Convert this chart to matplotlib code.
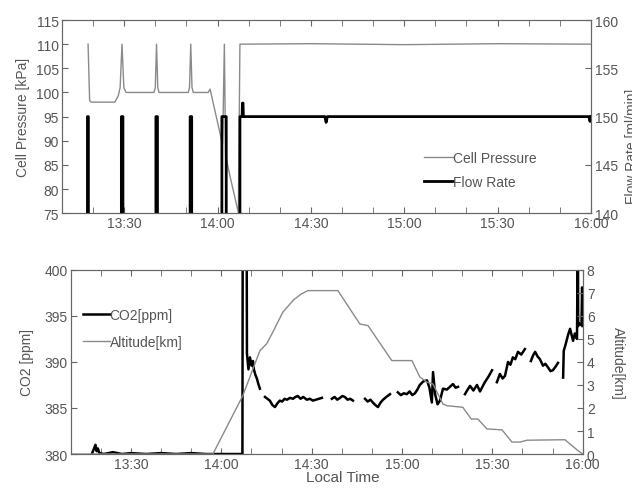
import numpy as np
import matplotlib
matplotlib.use("Agg")
import matplotlib.pyplot as plt
from matplotlib.ticker import FuncFormatter, MultipleLocator

nan = np.nan

plt.rcParams['font.family'] = ['Liberation Sans', 'DejaVu Sans']
plt.rcParams['font.size'] = 10

txt = '#555555'
edge = '#666666'

# ---- top panel: time in minutes after 13:00 ----
press_t = [18.4, 18.9, 19.4, 27.0, 28.1, 28.7, 29.3, 29.9, 30.6, 39.6, 40.0, 40.4, 40.8,
           41.2, 50.6, 51.0, 51.4, 51.8, 52.2, 57.0, 57.6, 61.6, 61.8, 62.2, 62.6, 64.0,
           66.7, 67.2, 67.5, 90, 120, 150, 180]
press_v = [110, 98.3, 98.0, 98.0, 99.3, 101, 110, 101, 100, 100, 101, 110, 101,
           100, 100, 101, 110, 101, 100, 100, 100.7, 89.3, 95, 110, 86.9, 82.7,
           75.1, 110, 110, 110.1, 109.9, 110.1, 110]

flow_t = [18.2, 18.2, 18.5, 18.5, 29.1, 29.1, 29.6, 29.6, 40.2, 40.2, 40.7, 40.7,
          51.2, 51.2, 51.7, 51.7, 61.4, 61.4, 62.8, 62.8, 67.2, 67.2, 67.9, 68.0,
          68.2, 68.3, 94.5, 94.9, 95.3, 179.4, 179.7, 180]
flow_v = [130, 150, 150, 130, 130, 150, 150, 130, 130, 150, 150, 130,
          130, 150, 150, 130, 130, 150, 150, 130, 130, 150, 150, 151.4,
          151.4, 150, 150, 149.4, 150, 150, 149.5, 150]

# ---- bottom panel ----
co2_t = [17.0, 18.2, 18.6, 19.0, 19.5, 21, 24, 27, 30, 35, 40, 45, 50, 55, 60, 67.0,
         67.1, 68.4, 68.5, 69.0, 69.5, 70.1, 70.5, 70.8, 71.3, 71.8, 72.3, 72.8, nan,
         74.5, 75.3, 76.1, 77.0, 77.8, 78.6, 79.4, 80.2, 81.0, 81.8, 82.8, 83.8, 84.6,
         85.4, 86.3, 87.2, 88.4, 89.4, 90.4, 91.4, 92.4, 93.4, nan,
         96.7, 97.6, 98.5, 99.4, 100.2, 101.0, 101.9, 102.8, 103.7, nan,
         107.7, 108.6, 109.5, 110.3, 111.2, 112.0, 112.9, 113.7, 114.8, 116.0, nan,
         118.6, 119.6, 120.6, 121.6, 122.5, 123.4, 124.3, 125.1, 125.9, 127.1, 128.3,
         129.1, 129.9, 130.3, 131.0, 131.8, 132.6, 133.6, 134.9, 135.9, 136.9, 137.8, 138.6, nan,
         140.9, 141.8, 142.6, 143.7, 144.9, 145.9, 146.7, 147.5, 148.7, 149.9, nan,
         151.5, 152.5, 153.4, 154.2, 155.2, 156.0, 156.8, 157.6, 158.5, 159.6, 160.8, nan,
         162.8, 163.5, 164.2, 165.0, 165.8, 166.8, 167.6, 168.5, 169.3, 170.1, 171.0, 171.8, nan,
         173.5, 173.7, 174.4, 175.1, 175.8, 176.8, 177.4, 178.1, 178.4, 178.5, 178.7,
         179.6, 179.8, 180.0]
co2_v = [380.0, 381.0, 380.3, 380.6, 380.1, 380.0, 380.2, 380.0, 380.1, 380.0, 380.1, 380.0, 380.1, 380.0, 380.0, 380.0,
         405, 405, 390.9, 389.2, 390.5, 389.6, 390.1, 389.2, 388.6, 388.2, 387.6, 387.1, nan,
         386.2, 386.0, 385.8, 385.3, 385.1, 385.5, 385.8, 385.7, 386.0, 385.9, 386.1, 386.0, 386.2,
         386.3, 386.0, 386.2, 385.9, 386.0, 385.8, 385.9, 386.0, 386.1, nan,
         386.0, 386.2, 385.9, 386.1, 386.3, 386.2, 385.9, 386.0, 385.8, nan,
         386.0, 385.7, 385.9, 385.6, 385.3, 385.1, 385.6, 385.9, 386.2, 386.5, nan,
         386.7, 386.4, 386.6, 386.5, 386.8, 386.4, 386.6, 387.0, 387.5, 387.9, 388.0,
         387.2, 385.6, 388.9, 386.5, 385.4, 385.8, 387.1, 387.0, 387.3, 387.6, 387.2, 387.3, nan,
         386.5, 387.0, 387.4, 386.9, 387.5, 386.8, 387.3, 387.8, 388.4, 389.1, nan,
         387.8, 388.7, 388.2, 388.5, 390.0, 389.7, 390.5, 390.3, 391.1, 390.8, 391.4, nan,
         390.1, 390.7, 391.1, 390.6, 390.3, 389.6, 389.8, 389.4, 389.0, 389.1, 389.5, 389.9, nan,
         388.3, 391.2, 392.0, 392.9, 393.6, 392.3, 393.1, 392.5, 405, 393.9, 394.2,
         394.0, 398.1, 393.9]

alt_t = [10, 57.2, 67.1, 72.8, 75.1, 77.5, 80.4, 84.0, 86.5, 88.7, 98.7, 106.0, 108.7,
         116.6, 123.3, 125.9, 128.3, 130.3, 133.6, 134.9, 140.2, 143.0, 145.2, 148.2,
         153.2, 156.5, 159.2, 161.5, 174.1, 178.4, 180]
alt_v = [0, 0, 2.53, 4.49, 4.8, 5.4, 6.16, 6.7, 6.95, 7.1, 7.1, 5.65, 5.58,
         4.06, 4.06, 3.35, 3.12, 3.04, 2.17, 2.1, 2.03, 1.52, 1.52, 1.09,
         1.05, 0.52, 0.52, 0.6, 0.62, 0.15, 0]


def hhmm(v, pos):
    m = int(round(v))
    return f"{13 + m // 60}:{m % 60:02d}"


def style(ax):
    ax.set_xlim(10, 180)
    ax.xaxis.set_major_locator(MultipleLocator(30))
    ax.xaxis.set_minor_locator(MultipleLocator(10))
    ax.xaxis.set_major_formatter(FuncFormatter(hhmm))
    ax.tick_params(which='both', direction='in', top=True, colors=edge,
                   labelcolor=txt, labelsize=10, length=4, pad=2)
    for s in ax.spines.values():
        s.set_color(edge)


def style_right(ax):
    ax.tick_params(direction='in', colors=edge, labelcolor=txt, labelsize=10,
                   length=4, pad=3)
    for s in ax.spines.values():
        s.set_color(edge)


fig = plt.figure(figsize=(6.32, 4.89), dpi=100)

# top panel
ax1 = fig.add_axes([0.098, 0.562, 0.837, 0.395])
ax1r = ax1.twinx()
p1, = ax1.plot(press_t, press_v, color='#8a8a8a', lw=1.0)
p2, = ax1r.plot(flow_t, flow_v, color='black', lw=2.0)
ax1.set_ylim(75, 115)
ax1.set_yticks(np.arange(75, 116, 5))
ax1r.set_ylim(140, 160)
ax1r.set_yticks(np.arange(140, 161, 5))
style(ax1)
style_right(ax1r)
ax1.set_ylabel('Cell Pressure [kPa]', color=txt, fontsize=10, labelpad=4)
fig.text(1.0, 0.70, 'Flow Rate [ml/min]', rotation=90, ha='center', va='center',
         color=txt, fontsize=10)
ax1.legend([p1, p2], ['Cell Pressure', 'Flow Rate'], loc='lower left',
           bbox_to_anchor=(0.66, 0.06), frameon=False, fontsize=10,
           handlelength=2.1, handletextpad=0.0, labelspacing=0.75, labelcolor=txt)

# bottom panel
ax2 = fig.add_axes([0.112, 0.0695, 0.81, 0.3765])
ax2r = ax2.twinx()
c1, = ax2.plot(co2_t, co2_v, color='black', lw=1.8)
c2, = ax2r.plot(alt_t, alt_v, color='#8a8a8a', lw=1.0)
ax2.set_ylim(380, 400)
ax2.set_yticks(np.arange(380, 401, 5))
ax2r.set_ylim(0, 8)
ax2r.set_yticks(np.arange(0, 9, 1))
style(ax2)
style_right(ax2r)
ax2.set_ylabel('CO2 [ppm]', color=txt, fontsize=10, labelpad=8)
ax2r.set_ylabel('Altitude[km]', color=txt, fontsize=10, rotation=-90, labelpad=22)
fig.text(0.543, 0.022, 'Local Time', ha='center', va='center', color=txt, fontsize=11)
ax2.legend([c1, c2], ['CO2[ppm]', 'Altitude[km]'], loc='upper left',
           bbox_to_anchor=(0.0, 0.86), frameon=False, fontsize=10,
           handlelength=1.9, handletextpad=0.0, labelspacing=0.9, labelcolor=txt)

fig.savefig('out.png', dpi=100)
